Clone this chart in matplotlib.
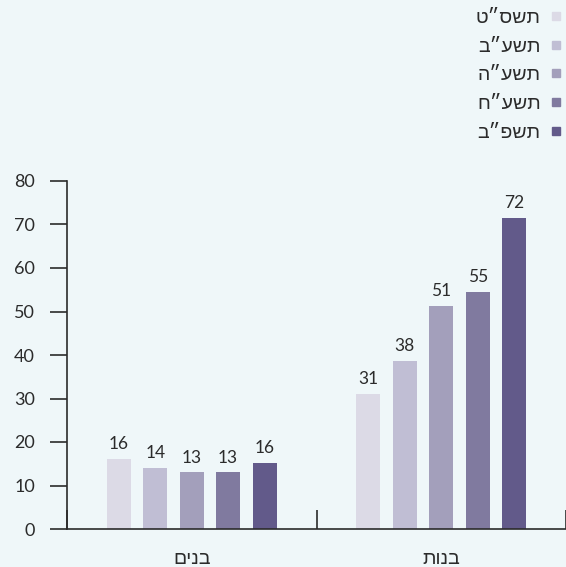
import numpy as np
import matplotlib.pyplot as plt
from matplotlib.lines import Line2D

# data
groups = ["בנים", "בנות"]
years = ["תשס״ט", "תשע״ב", "תשע״ה", "תשע״ח", "תשפ״ב"]
boys = [16, 14, 13, 13, 15.2]
girls = [31, 38.7, 51.3, 54.5, 71.5]
boys_labels = ["16", "14", "13", "13", "16"]
girls_labels = ["31", "38", "51", "55", "72"]
colors = ["#dcdae6", "#c0bed4", "#a39fbb", "#807a9f", "#625a8a"]

bg = "#eff7f9"
dark = "#2b2b2b"
fonts = ["Lato", "Liberation Sans", "DejaVu Sans"]
plt.rcParams["font.family"] = fonts


def rtl(s):
    # matplotlib draws left to right, so flip Hebrew to visual order
    return s[::-1]


fig = plt.figure(figsize=(5.66, 5.67), dpi=100, facecolor=bg)
ax = fig.add_axes([67 / 566, 38 / 567, 499 / 566, 348 / 567])
ax.set_facecolor(bg)

pitch = 0.146
width = 0.096
x = np.arange(len(groups))
series = [boys, girls]
labels = [boys_labels, girls_labels]

for j in range(len(years)):
    xs = x + (j - 2) * pitch
    vals = [series[0][j], series[1][j]]
    ax.bar(xs, vals, width=width, color=colors[j], zorder=2)
    for k in range(len(groups)):
        ax.annotate(labels[k][j], (xs[k], vals[k]), xytext=(0, 5),
                    textcoords="offset points", ha="center", va="bottom",
                    fontsize=12.5, color=dark)

ax.set_xlim(-0.5, 1.5)
ax.set_ylim(0, 80)
ax.set_yticks(range(0, 81, 10))
ax.tick_params(axis="y", length=12, width=1.2, color=dark, pad=11,
               labelsize=13, labelcolor=dark)

ax.set_xticks([-0.5, 0.5, 1.5])
ax.set_xticklabels([])
ax.tick_params(axis="x", which="major", direction="in", length=14,
               width=1.2, color=dark)
ax.set_xticks(x, minor=True)
ax.set_xticklabels([rtl(g) for g in groups], minor=True)
ax.tick_params(axis="x", which="minor", length=0, pad=15, labelsize=14,
               labelcolor=dark)

for s in ["top", "right"]:
    ax.spines[s].set_visible(False)
for s in ["left", "bottom"]:
    ax.spines[s].set_color(dark)
    ax.spines[s].set_linewidth(1.2)

handles = [Line2D([], [], marker="s", linestyle="none", markersize=6,
                  markerfacecolor=c, markeredgecolor=c) for c in colors]
fig.legend(handles, [rtl(y) for y in years], loc="upper right",
           bbox_to_anchor=(566 / 566, 560 / 567), frameon=False,
           markerfirst=False, fontsize=14, labelspacing=0.6,
           handlelength=0.8, handletextpad=0.4, borderpad=0.1,
           borderaxespad=0.0, labelcolor=dark)

fig.savefig("out.png", dpi=100, facecolor=bg)
